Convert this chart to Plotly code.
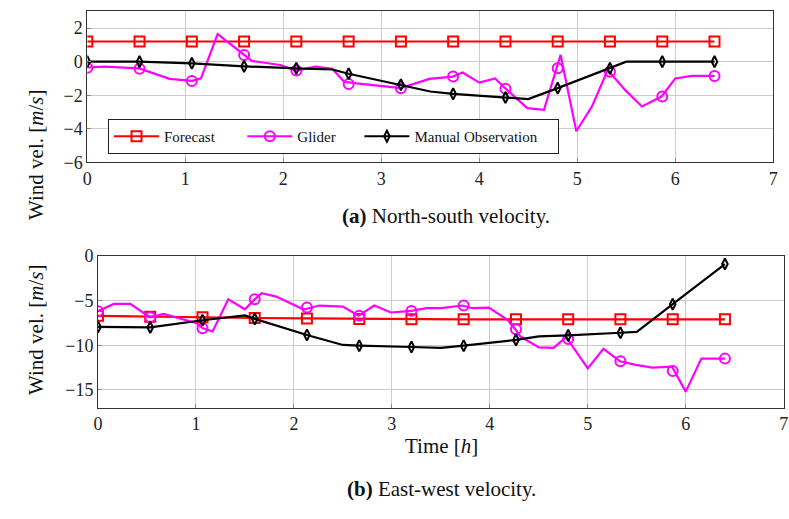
import plotly.graph_objects as go

# ---------- data (North-south, top) ----------
mark_x = [0, 0.533, 1.067, 1.6, 2.133, 2.667, 3.2, 3.733, 4.267, 4.8, 5.333, 5.867, 6.4]

ns_forecast = [1.2, 1.2, 1.2, 1.2, 1.2, 1.2, 1.2, 1.2, 1.2, 1.2, 1.2, 1.2, 1.2]

ns_glider_x = [0, 0.17, 0.53, 0.84, 1.07, 1.16, 1.33, 1.6, 1.68, 1.97, 2.13, 2.33, 2.5, 2.62, 2.75, 3.2,
               3.49, 3.73, 3.83, 4.0, 4.16, 4.27, 4.49, 4.66, 4.83, 4.99, 5.15, 5.31, 5.49, 5.66,
               5.86, 6.0, 6.17, 6.4]
ns_glider_y = [-0.35, -0.3, -0.4, -1.03, -1.15, -1.0, 1.64, 0.4, 0.04, -0.2, -0.53, -0.3, -0.43, -1.2, -1.3, -1.58,
               -1.03, -0.89, -0.65, -1.25, -1.0, -1.62, -2.77, -2.87, 0.4, -4.15, -2.67, -0.5, -1.7, -2.67,
               -2.08, -1.0, -0.85, -0.85]
ns_glider_mark = [-0.36, -0.42, -1.15, 0.4, -0.53, -1.34, -1.58, -0.89, -1.62, -0.4, -0.6, -2.08, -0.85]

ns_manual_x = [0, 0.533, 1.067, 1.6, 2.133, 2.5, 2.667, 3.2, 3.5, 3.733, 4.267, 4.5, 4.8, 5.333, 5.5, 5.867, 6.4]
ns_manual_y = [0, 0, -0.1, -0.28, -0.4, -0.47, -0.72, -1.38, -1.78, -1.92, -2.14, -2.23, -1.58, -0.4, 0, 0, 0]
ns_manual_mark = [0, 0, -0.1, -0.28, -0.4, -0.72, -1.38, -1.92, -2.14, -1.58, -0.4, 0, 0]

# ---------- data (East-west, bottom) ----------
ew_forecast = [-6.7, -6.8, -6.85, -6.95, -7.0, -7.05, -7.08, -7.1, -7.1, -7.1, -7.1, -7.1, -7.1]

ew_glider_x = [0, 0.16, 0.33, 0.53, 0.67, 1.0, 1.07, 1.17, 1.33, 1.5, 1.6, 1.67, 1.82, 2.1, 2.26, 2.5,
               2.66, 2.82, 2.99, 3.2, 3.35, 3.5, 3.72, 3.82, 3.99, 4.18, 4.26, 4.31, 4.5, 4.65,
               4.78, 5.0, 5.16, 5.33, 5.49, 5.66, 5.86, 6.0, 6.16, 6.4]
ew_glider_y = [-6.2, -5.37, -5.37, -6.86, -6.49, -7.5, -8.1, -8.46, -4.85, -5.97, -4.85, -4.18, -4.55, -6.0, -5.55, -5.67,
               -6.7, -5.55, -6.33, -6.15, -5.85, -5.85, -5.55, -5.85, -5.78, -7.16, -8.2, -9.0, -10.25, -10.3,
               -9.1, -12.6, -10.4, -11.8, -12.2, -12.5, -12.4, -15.2, -11.5, -11.5]
ew_glider_mark = [-6.2, -6.86, -8.1, -4.85, -5.78, -6.7, -6.15, -5.55, -8.2, -9.3, -11.8, -12.9, -11.5]

ew_manual_x = [0, 0.533, 1.067, 1.5, 1.6, 2.133, 2.5, 2.667, 3.2, 3.5, 3.733, 4.267, 4.5, 4.8, 5.333, 5.5, 5.867, 6.4]
ew_manual_y = [-7.95, -8.0, -7.2, -6.66, -7.05, -8.85, -9.97, -10.05, -10.2, -10.3, -10.05, -9.4, -9.0, -8.9, -8.6, -8.5, -5.4, -0.9]
ew_manual_mark = [-7.95, -8.0, -7.2, -7.05, -8.85, -10.05, -10.2, -10.05, -9.4, -8.9, -8.6, -5.4, -0.9]

NB = "\u00a0"
names = ["Forecast" + NB * 6, "Glider" + NB * 5, "Manual Observation" + NB * 4]
colors = ["#ff0000", "#ff00ff", "#000000"]
symbols = ["square-open", "circle-open", "diamond-tall-open"]
msizes = [10, 10, 8]

FONT = "Liberation Serif"

fig = go.Figure()


def add_series(xl, yl, ym, idx, xa, ya):
    fig.add_trace(go.Scatter(x=xl, y=yl, mode="lines", line=dict(color=colors[idx], width=2.2),
                             showlegend=False, xaxis=xa, yaxis=ya, hoverinfo="skip"))
    fig.add_trace(go.Scatter(x=mark_x, y=ym, mode="markers",
                             marker=dict(symbol=symbols[idx], size=msizes[idx], color=colors[idx],
                                         line=dict(width=2, color=colors[idx])),
                             showlegend=False, xaxis=xa, yaxis=ya))


# top
add_series(mark_x, ns_forecast, ns_forecast, 0, "x", "y")
add_series(ns_glider_x, ns_glider_y, ns_glider_mark, 1, "x", "y")
add_series(ns_manual_x, ns_manual_y, ns_manual_mark, 2, "x", "y")
# bottom
add_series(mark_x, ew_forecast, ew_forecast, 0, "x2", "y2")
add_series(ew_glider_x, ew_glider_y, ew_glider_mark, 1, "x2", "y2")
add_series(ew_manual_x, ew_manual_y, ew_manual_mark, 2, "x2", "y2")

# legend entries
for i in range(3):
    fig.add_trace(go.Scatter(x=[None], y=[None], mode="lines+markers", name=names[i],
                             line=dict(color=colors[i], width=2.2),
                             marker=dict(symbol=symbols[i], size=msizes[i], color=colors[i],
                                         line=dict(width=2, color=colors[i])),
                             xaxis="x", yaxis="y"))

W, H = 789, 519
axcommon = dict(showline=True, linecolor="#333333", linewidth=1, mirror=True,
                showgrid=True, gridcolor="#cccccc", gridwidth=1,
                ticks="inside", ticklen=4, tickcolor="#888888", zeroline=False,
                tickfont=dict(family=FONT, size=18, color="#222"))

fig.update_layout(
    template="none",
    width=W, height=H, margin=dict(l=0, r=0, t=0, b=0),
    paper_bgcolor="white", plot_bgcolor="white",
    font=dict(family=FONT, color="#111", size=15),
    xaxis=dict(domain=[87.3 / W, 773.3 / W], range=[0, 7], dtick=1, tick0=0, anchor="y", **axcommon),
    yaxis=dict(domain=[1 - 162.3 / H, 1 - 11.3 / H], range=[-6, 3], dtick=2, tick0=0, anchor="x", **axcommon),
    xaxis2=dict(domain=[98 / W, 783.7 / W], range=[0, 7], dtick=1, tick0=0, anchor="y2", **axcommon),
    yaxis2=dict(domain=[1 - 407.7 / H, 1 - 256 / H], range=[-17, 0], dtick=5, tick0=0, anchor="x2", **axcommon),
    legend=dict(orientation="h", x=108 / W, y=1 - 119 / H, xanchor="left", yanchor="top",
                bordercolor="#222", borderwidth=1, bgcolor="white",
                font=dict(family=FONT, size=15, color="#111"), itemwidth=45,
                tracegroupgap=0),
    annotations=[
        dict(text="Wind vel. [<i>m</i>/<i>s</i>]", textangle=-90, x=22 / W, y=1 - 88 / H,
             xref="paper", yref="paper", showarrow=False, font=dict(family=FONT, size=21)),
        dict(text="Wind vel. [<i>m</i>/<i>s</i>]", textangle=-90, x=22 / W, y=1 - 330 / H,
             xref="paper", yref="paper", showarrow=False, font=dict(family=FONT, size=21)),
        dict(text="<b>(a)</b> North-south velocity.", x=446 / W, y=1 - 216 / H,
             xref="paper", yref="paper", showarrow=False, font=dict(family=FONT, size=21)),
        dict(text="Time [<i>h</i>]", x=441 / W, y=1 - 460 / H,
             xref="paper", yref="paper", showarrow=False, font=dict(family=FONT, size=21)),
        dict(text="<b>(b)</b> East-west velocity.", x=441 / W, y=1 - 503 / H,
             xref="paper", yref="paper", showarrow=False, font=dict(family=FONT, size=21)),
    ],
)

fig.write_html("out.html")
